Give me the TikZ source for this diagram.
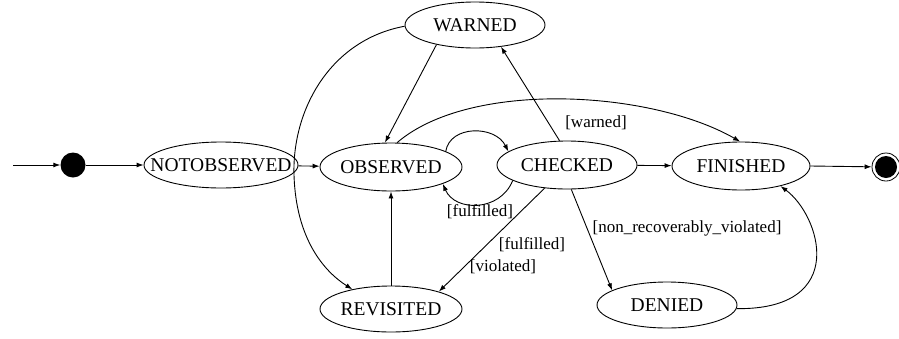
\documentclass[tikz,border=0pt]{standalone}
\usepackage{fontspec}
\setmainfont{Liberation Serif}
\usetikzlibrary{shapes.geometric,arrows.meta}
\tikzset{
  state/.style={draw, ellipse, line width=0.9pt, inner sep=0pt},
  statetext/.style={font=\fontsize{19.5}{21}\selectfont},
  edge/.style={line width=0.9pt, -{Latex[length=7pt,width=5pt]}},
  lbl/.style={font=\fontsize{17}{19}\selectfont, inner sep=0pt},
}
\begin{document}
\begin{tikzpicture}[x=1pt,y=-1pt]
\useasboundingbox[fill=white] (0,0) rectangle (899,338);
% initial and final
\coordinate (in) at (13,165);
\node[circle, fill=black, minimum size=25pt, inner sep=0pt] (init) at (73,165) {};
\node[circle, draw, line width=0.8pt, minimum size=28pt, inner sep=0pt] (final) at (886,167) {};
\node[circle, fill=black, minimum size=22pt, inner sep=0pt] (finaldot) at (886,167) {};
% states
\node[state, minimum width=154pt, minimum height=46pt, label={[statetext]center:NOTOBSERVED}] (notobs) at (221,165) {};
\node[state, minimum width=142pt, minimum height=48pt, label={[statetext]center:OBSERVED}] (obs) at (391,167) {};
\node[state, minimum width=140pt, minimum height=48pt, label={[statetext]center:CHECKED}] (chk) at (567,165) {};
\node[state, minimum width=138pt, minimum height=48pt, label={[statetext]center:FINISHED}] (fin) at (741,166) {};
\node[state, minimum width=140pt, minimum height=46pt, label={[statetext]center:WARNED}] (warn) at (475,25) {};
\node[state, minimum width=142pt, minimum height=46pt, label={[statetext]center:REVISITED}] (rev) at (391,309) {};
\node[state, minimum width=140pt, minimum height=46pt, label={[statetext]center:DENIED}] (den) at (667,305) {};
% edges
\draw[edge] (in) -- (init);
\draw[edge] (init) -- (notobs);
\draw[edge] (notobs) -- (obs);
\draw[edge] (chk) -- (fin);
\draw[edge] (fin.east) -- (final);
\draw[edge] (rev.north) -- (obs.south);
\draw[edge] (warn.207) -- (obs.104);
\draw[edge] (warn.181) .. controls (330,40) and (292,110) .. (294,175) .. controls (296,240) and (325,272) .. (rev.153);
\draw[edge] (chk.107) -- (warn.320);
\draw[edge] (obs.76) .. controls (470,80) and (650,90) .. (fin.92);
\draw[edge] (obs.16) .. controls (450,125) and (495,125) .. (chk.167);
\draw[edge] (chk.196) .. controls (500,212) and (455,212) .. (obs.342);
\draw[edge] (chk.226) -- (rev.20);
\draw[edge] (chk.280) -- (den.165);
\draw[edge] (den.357) .. controls (850,310) and (820,215) .. (fin.333);
% labels
\node[lbl] (lwarned) at (596,123) {[warned]};
\node[lbl] (lfulf1) at (480,212) {[fulfilled]};
\node[lbl] (lfulf2) at (532,245) {[fulfilled]};
\node[lbl] (lviol) at (503,267) {[violated]};
\node[lbl] (lnonrec) at (687,228) {[non\_recoverably\_violated]};
\end{tikzpicture}
\end{document}
